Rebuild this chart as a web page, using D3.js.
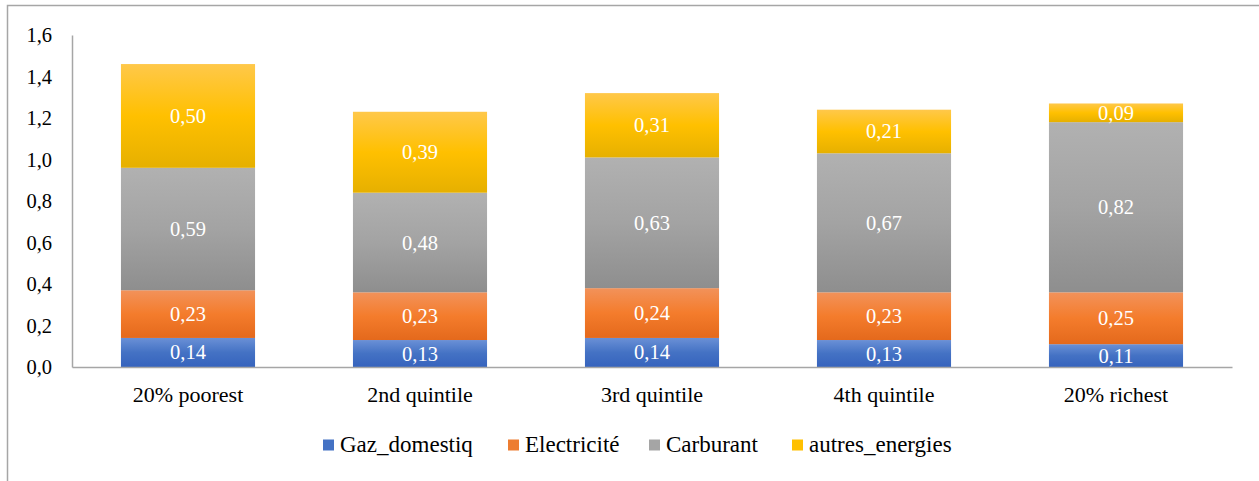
<!DOCTYPE html>
<html>
<head>
<meta charset="utf-8">
<script src="https://cdn.jsdelivr.net/npm/d3@7"></script>
<style>
  html, body { margin: 0; padding: 0; background: #fff; }
  svg { display: block; }
</style>
</head>
<body>
<svg id="chart" width="1259" height="481"></svg>
<script>
// Energy spending by income quintile, stacked by energy type
const categories = ["20% poorest", "2nd quintile", "3rd quintile", "4th quintile", "20% richest"];
const seriesNames = ["Gaz_domestiq", "Electricité", "Carburant", "autres_energies"];
const gazDomestiq = [0.14, 0.13, 0.14, 0.13, 0.11];
const electricite = [0.23, 0.23, 0.24, 0.23, 0.25];
const carburant = [0.59, 0.48, 0.63, 0.67, 0.82];
const autresEnergies = [0.50, 0.39, 0.31, 0.21, 0.09];
const yTicks = [0, 0.2, 0.4, 0.6, 0.8, 1.0, 1.2, 1.4, 1.6];

const FONT = "'Liberation Serif'";

const seriesValues = [gazDomestiq, electricite, carburant, autresEnergies];
const rows = categories.map((c, i) => {
  const r = { category: c };
  seriesNames.forEach((s, k) => { r[s] = seriesValues[k][i]; });
  return r;
});

// vertical gradient per series: lighter top, base middle, darker bottom
const palette = {
  "Gaz_domestiq":    { top: "#6a90d6", mid: "#4472c4", bot: "#3663bd", key: "#4472c4" },
  "Electricité":     { top: "#f2925a", mid: "#f47c2c", bot: "#e4691c", key: "#ed7d31" },
  "Carburant":       { top: "#b1b1b1", mid: "#a3a3a3", bot: "#8e8e8e", key: "#a5a5a5" },
  "autres_energies": { top: "#ffc84a", mid: "#ffc000", bot: "#e6b000", key: "#ffc000" }
};

const svg = d3.select("#chart");
const fmt1 = v => d3.format(".1f")(v).replace(".", ",");
const fmt2 = v => d3.format(".2f")(v).replace(".", ",");

// chart area frame
svg.append("path")
  .attr("d", "M7.5,481 L7.5,5.5 L1259,5.5")
  .attr("fill", "none").attr("stroke", "#a6a6a6").attr("stroke-width", 1.5);

const plot = { left: 72, right: 1232, top: 35, bottom: 367 };

const x = d3.scaleBand().domain(categories)
  .range([plot.left, plot.right]).paddingInner(0.422).paddingOuter(0.211);
const y = d3.scaleLinear().domain([0, 1.6]).range([plot.bottom, plot.top]);

const defs = svg.append("defs");
seriesNames.forEach((s, k) => {
  const g = defs.append("linearGradient").attr("id", "grad" + k)
    .attr("x1", 0).attr("y1", 0).attr("x2", 0).attr("y2", 1);
  g.append("stop").attr("offset", "0%").attr("stop-color", palette[s].top);
  g.append("stop").attr("offset", "50%").attr("stop-color", palette[s].mid);
  g.append("stop").attr("offset", "100%").attr("stop-color", palette[s].bot);
});

const stacked = d3.stack().keys(seriesNames)(rows);

svg.append("g").selectAll("g").data(stacked).join("g")
  .attr("fill", (d, k) => `url(#grad${k})`)
  .selectAll("rect").data(d => d).join("rect")
  .attr("x", d => x(d.data.category))
  .attr("width", x.bandwidth())
  .attr("y", d => y(d[1]))
  .attr("height", d => y(d[0]) - y(d[1]));

// segment value labels
svg.append("g").selectAll("g").data(stacked).join("g")
  .selectAll("text").data(d => d.map(p => ({ p, key: d.key }))).join("text")
  .attr("x", d => x(d.p.data.category) + x.bandwidth() / 2)
  .attr("y", d => (y(d.p[0]) + y(d.p[1])) / 2 + 7)
  .attr("text-anchor", "middle")
  .attr("fill", "#ffffff")
  .attr("font-size", 20.5)
  .style("font-family", FONT)
  .text(d => fmt2(d.p.data[d.key]));

// y axis
const yAxis = d3.axisLeft(y).tickValues(yTicks).tickFormat(fmt1).tickSize(0).tickPadding(20);
const yg = svg.append("g").attr("transform", `translate(${plot.left},0)`).call(yAxis);
yg.attr("font-family", null).attr("font-size", null);
yg.select(".domain").attr("stroke", "#a6a6a6").attr("stroke-width", 1.5);
yg.selectAll("text").attr("fill", "#000").attr("font-size", 20.5)
  .style("font-family", FONT);

// x axis
const xAxis = d3.axisBottom(x).tickSize(0).tickPadding(19);
const xg = svg.append("g").attr("transform", `translate(0,${plot.bottom})`).call(xAxis);
xg.attr("font-family", null).attr("font-size", null);
xg.select(".domain").attr("stroke", "#a6a6a6").attr("stroke-width", 1.5);
xg.selectAll("text").attr("fill", "#000").attr("font-size", 22)
  .style("font-family", FONT);

// legend
const legendX = [323, 508, 649, 792];
const legend = svg.append("g").selectAll("g").data(seriesNames).join("g")
  .attr("transform", (d, i) => `translate(${legendX[i]},445)`);
legend.append("rect").attr("x", 0).attr("y", -5.5).attr("width", 11).attr("height", 11)
  .attr("fill", d => palette[d].key);
legend.append("text")
  .attr("x", 17).attr("y", 7)
  .attr("fill", "#000").attr("font-size", 23)
  .style("font-family", FONT)
  .text(d => d);
</script>
</body>
</html>
